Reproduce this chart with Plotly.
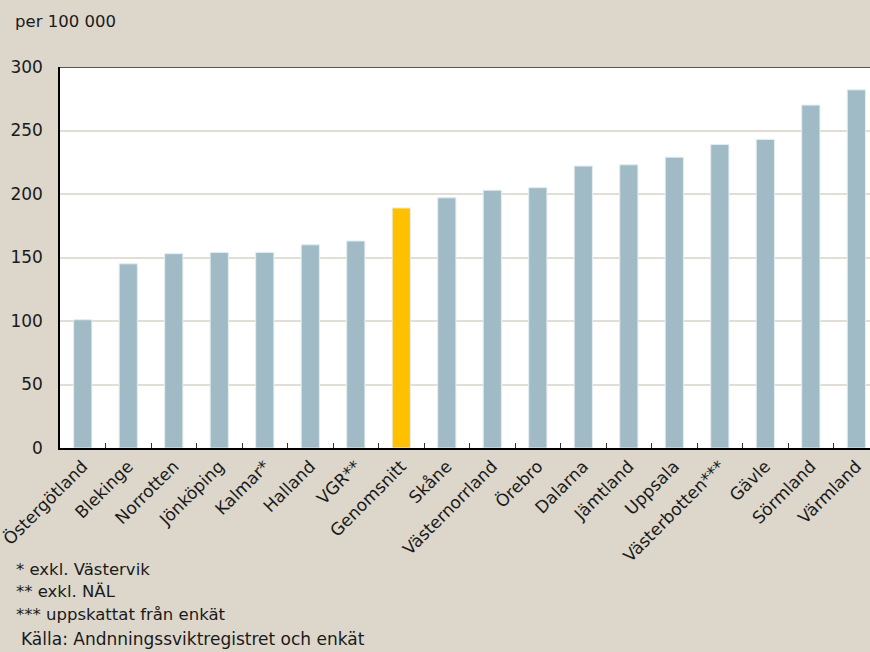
import plotly.graph_objects as go

categories = ["Östergötland", "Blekinge", "Norrotten", "Jönköping", "Kalmar*", "Halland",
              "VGR**", "Genomsnitt", "Skåne", "Västernorrland", "Örebro", "Dalarna",
              "Jämtland", "Uppsala", "Västerbotten***", "Gävle", "Sörmland", "Värmland"]
values = [101, 145, 153, 154, 154, 160, 163, 189, 197, 203, 205, 222, 223, 229, 239, 243, 270, 282]
highlight = "Genomsnitt"
y_ticks = [0, 50, 100, 150, 200, 250, 300]
unit_label = "per 100 000"
footnotes = ["* exkl. Västervik", "** exkl. NÄL", "*** uppskattat från enkät"]
source = "Källa: Andnningssviktregistret och enkät"

BAR = "#A0BBC6"
HL = "#FFC000"
BG = "#DCD6CB"
FONT = "DejaVu Sans"

colors = [HL if c == highlight else BAR for c in categories]

fig = go.Figure(go.Bar(
    x=categories, y=values,
    marker=dict(color=colors, line=dict(color="#E4ECEF", width=1)),
))

fig.update_layout(
    width=870, height=652,
    paper_bgcolor=BG, plot_bgcolor="white",
    margin=dict(l=60, r=0, t=67, b=204),
    bargap=0.6,
    showlegend=False,
    font=dict(family=FONT, size=17, color="#1a1a1a"),
)
fig.update_xaxes(
    type="category", range=[-0.5, 17.3],
    tickangle=-45, showline=True, linecolor="black", linewidth=1.5,
    ticks="inside", tickson="boundaries", ticklen=5, tickcolor="#333",
    showgrid=False, tickfont=dict(size=17),
)
fig.update_yaxes(
    range=[0, 300], tickvals=y_ticks, showline=True, linecolor="black", linewidth=1.5,
    gridcolor="#E3DED5", gridwidth=1.5, zeroline=False, ticks="", ticklen=0,
    tickfont=dict(size=17), ticklabelstandoff=12,
)
fig.add_shape(type="line", xref="paper", yref="y", x0=0, x1=1, y0=300, y1=300,
              line=dict(color="#555555", width=2))

fig.add_annotation(text=unit_label, xref="paper", yref="paper", x=-47/810, y=1 + 45/381,
                   xanchor="left", yanchor="middle", showarrow=False,
                   font=dict(size=16.5))
for i, t in enumerate(footnotes):
    fig.add_annotation(text=t, xref="paper", yref="paper",
                       x=-46/810, y=-(569 + 22.5 * i - 448) / 381,
                       xanchor="left", yanchor="middle", showarrow=False,
                       font=dict(size=16.5))
fig.add_annotation(text=source, xref="paper", yref="paper",
                   x=-41/810, y=-(639 - 448) / 381,
                   xanchor="left", yanchor="middle", showarrow=False,
                   font=dict(size=17))

fig.write_html("out.html", config={"displayModeBar": False},
               post_script="document.body.style.margin='0';document.body.style.overflow='hidden';")
